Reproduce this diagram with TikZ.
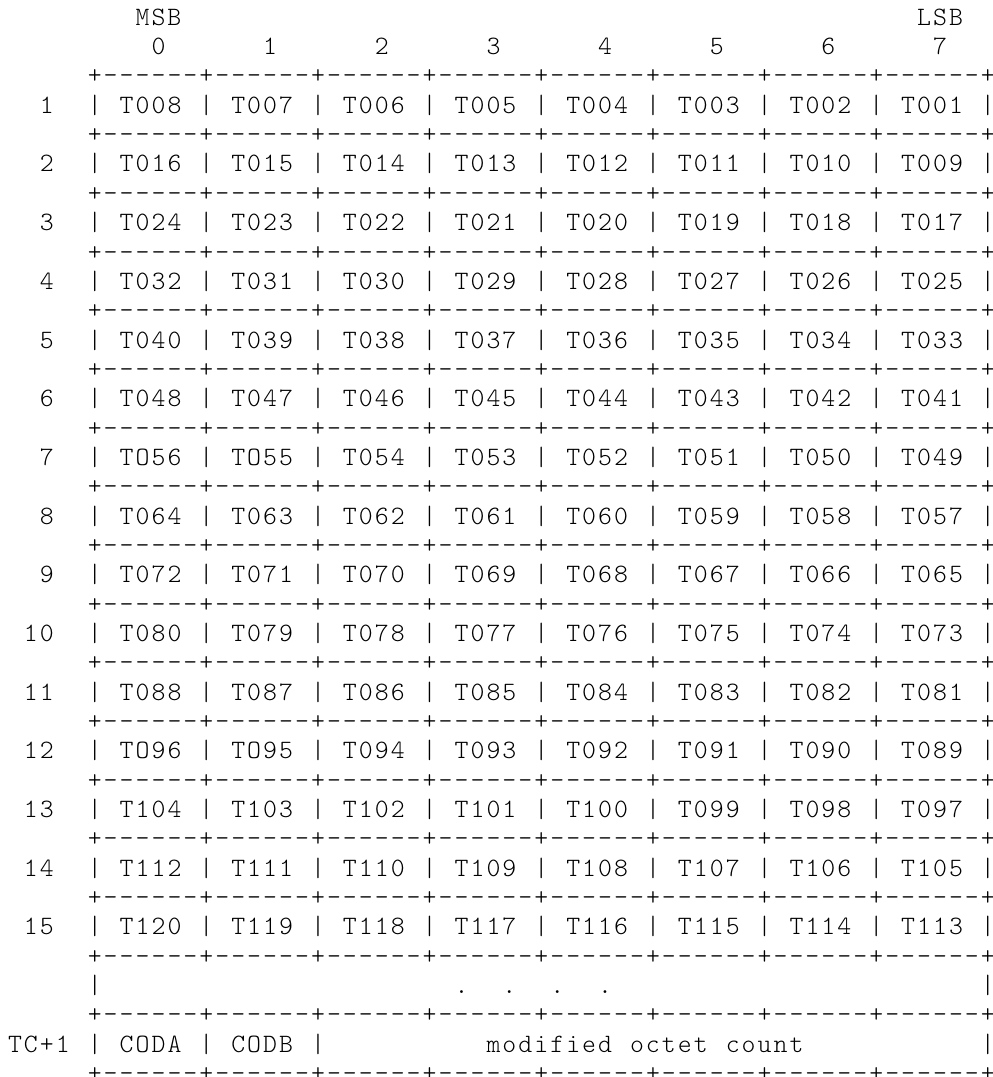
\documentclass[tikz,border=0pt]{standalone}
\newlength\chw \setlength\chw{15.95pt}
\def\spcloop#1{\ifx#1\relax\else\makebox[\chw][c]{#1}\expandafter\spcloop\fi}
\newcommand\spc[1]{\spcloop#1\relax}
\newcommand\spcx[1]{\expandafter\spc\expandafter{#1}}
\newcommand\asciifont{\fontsize{26.5}{29}\fontfamily{lmtt}\fontseries{l}\selectfont}
\def\bord{+------+------+------+------+------+------+------+------+}
\def\seps{|~~~~~~|~~~~~~|~~~~~~|~~~~~~|~~~~~~|~~~~~~|~~~~~~|~~~~~~|}
\tikzset{
  txt/.style={inner sep=0pt, outer sep=0pt, anchor=base west, font=\asciifont, text=black},
  lbl/.style={txt, anchor=base east}
}
\begin{document}
\begin{tikzpicture}[x=15.95pt,y=-29.34pt]
\fill[white] (0pt,0pt) rectangle (993pt,-1077pt);
\useasboundingbox (0pt,0pt) rectangle (993pt,-1077pt);
\begin{scope}[shift={(7pt,-25.28pt)}]
% header
\node[txt] (msb) at (8,0) {\spc{MSB}};
\node[txt] (lsb) at (57,0) {\spc{LSB}};
\foreach \k in {0,...,7} \node[txt] (h\k) at (9+7*\k,1) {\spcx{\k}};
% border lines
\foreach \L [count=\i] in {2,4,...,36} \node[txt] (b\i) at (5,\L) {\spcx{\bord}};
% content rows
\foreach \r/\cells in {
  1/{T008,T007,T006,T005,T004,T003,T002,T001},
  2/{T016,T015,T014,T013,T012,T011,T010,T009},
  3/{T024,T023,T022,T021,T020,T019,T018,T017},
  4/{T032,T031,T030,T029,T028,T027,T026,T025},
  5/{T040,T039,T038,T037,T036,T035,T034,T033},
  6/{T048,T047,T046,T045,T044,T043,T042,T041},
  7/{TO56,TO55,T054,T053,T052,T051,T050,T049},
  8/{T064,T063,T062,T061,T060,T059,T058,T057},
  9/{T072,T071,T070,T069,T068,T067,T066,T065},
  10/{T080,T079,T078,T077,T076,T075,T074,T073},
  11/{T088,T087,T086,T085,T084,T083,T082,T081},
  12/{TO96,TO95,T094,T093,T092,T091,T090,T089},
  13/{T104,T103,T102,T101,T100,T099,T098,T097},
  14/{T112,T111,T110,T109,T108,T107,T106,T105},
  15/{T120,T119,T118,T117,T116,T115,T114,T113}} {
  \node[lbl] (r\r) at (3,2*\r+1) {\spcx{\r}};
  \node[txt] (s\r) at (5,2*\r+1) {\spcx{\seps}};
  \foreach \t [count=\k from 0] in \cells
    \node[txt] (c\r-\k) at (7+7*\k,2*\r+1) {\spcx{\t}};
}
% continuation row
\node[txt] (dl) at (5,33) {\spc{|}};
\node[txt] (dots) at (28,33) {\spc{.~~.~~.~~.}};
\node[txt] (dr) at (61,33) {\spc{|}};
% TC+1 row
\node[txt] (rtc) at (0,35) {\spc{TC+1}};
\node[txt] (t0) at (5,35) {\spc{|}};
\node[txt] (coda) at (7,35) {\spc{CODA}};
\node[txt] (t1) at (12,35) {\spc{|}};
\node[txt] (codb) at (14,35) {\spc{CODB}};
\node[txt] (t2) at (19,35) {\spc{|}};
\node[txt] (count) at (30,35) {\spc{modified~octet~count}};
\node[txt] (t3) at (61,35) {\spc{|}};
\end{scope}
\end{tikzpicture}
\end{document}
